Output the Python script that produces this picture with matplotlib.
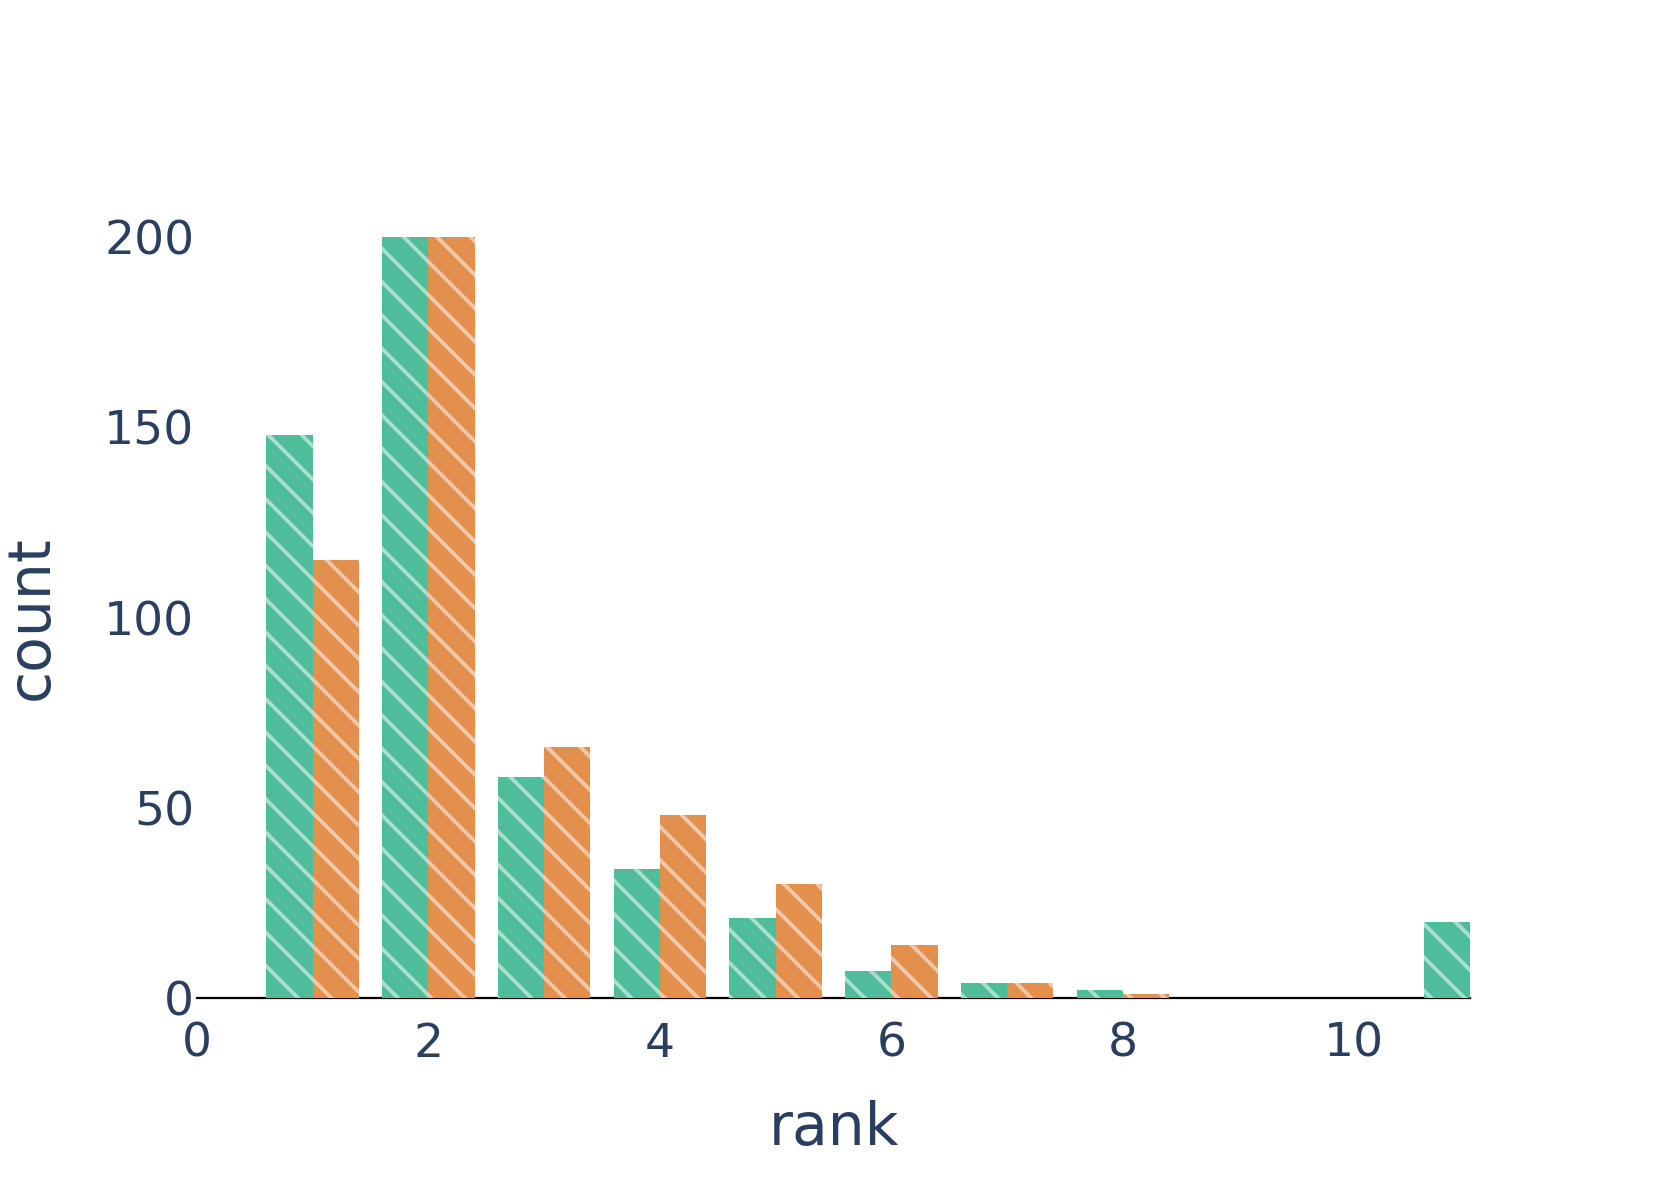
import numpy as np
import matplotlib
matplotlib.use("Agg")
import matplotlib.pyplot as plt

# data
ranks = [1, 2, 3, 4, 5, 6, 7, 8, 9, 10, 11]
green_counts = [148, 200, 58, 34, 21, 7, 4, 2, 0, 0, 20]
orange_counts = [115, 200, 66, 48, 30, 14, 4, 1, 0, 0, 0]
x_ticks = [0, 2, 4, 6, 8, 10]
y_ticks = [0, 50, 100, 150, 200]

text_color = "#2a3f5f"
green = "#4fbd9b"
orange = "#e3904f"

plt.rcParams["hatch.linewidth"] = 1.4
plt.rcParams["font.family"] = ["DejaVu Sans"]

fig = plt.figure(figsize=(8.305, 5.935), dpi=200)
ax = fig.add_axes([197 / 1661, 1 - 998 / 1187, 1273 / 1661, 761 / 1187])

x = np.array(ranks)
w = 0.4
ax.bar(x - w / 2, green_counts, width=w, color=green, edgecolor=(1, 1, 1, 0.5),
       linewidth=0, hatch="\\\\", zorder=2)
ax.bar(x + w / 2, orange_counts, width=w, color=orange, edgecolor=(1, 1, 1, 0.5),
       linewidth=0, hatch="\\\\", zorder=2)

ax.set_xlim(0, 11)
ax.set_ylim(0, 200)
ax.set_xticks(x_ticks)
ax.set_yticks(y_ticks)

for s in ["top", "right", "left"]:
    ax.spines[s].set_visible(False)
ax.spines["bottom"].set_color("black")
ax.spines["bottom"].set_linewidth(0.8)
ax.spines["bottom"].set_zorder(1)

ax.tick_params(axis="both", length=0, labelcolor=text_color, labelsize=17)
ax.tick_params(axis="x", pad=8.5)
ax.tick_params(axis="y", pad=1)

ax.set_xlabel("rank", fontsize=21, color=text_color)
ax.set_ylabel("count", fontsize=21, color=text_color)
ax.xaxis.set_label_coords(0.5, -0.134)
ax.yaxis.set_label_coords(-0.108, 0.5)

fig.savefig("out.png", dpi=200, facecolor="white")
